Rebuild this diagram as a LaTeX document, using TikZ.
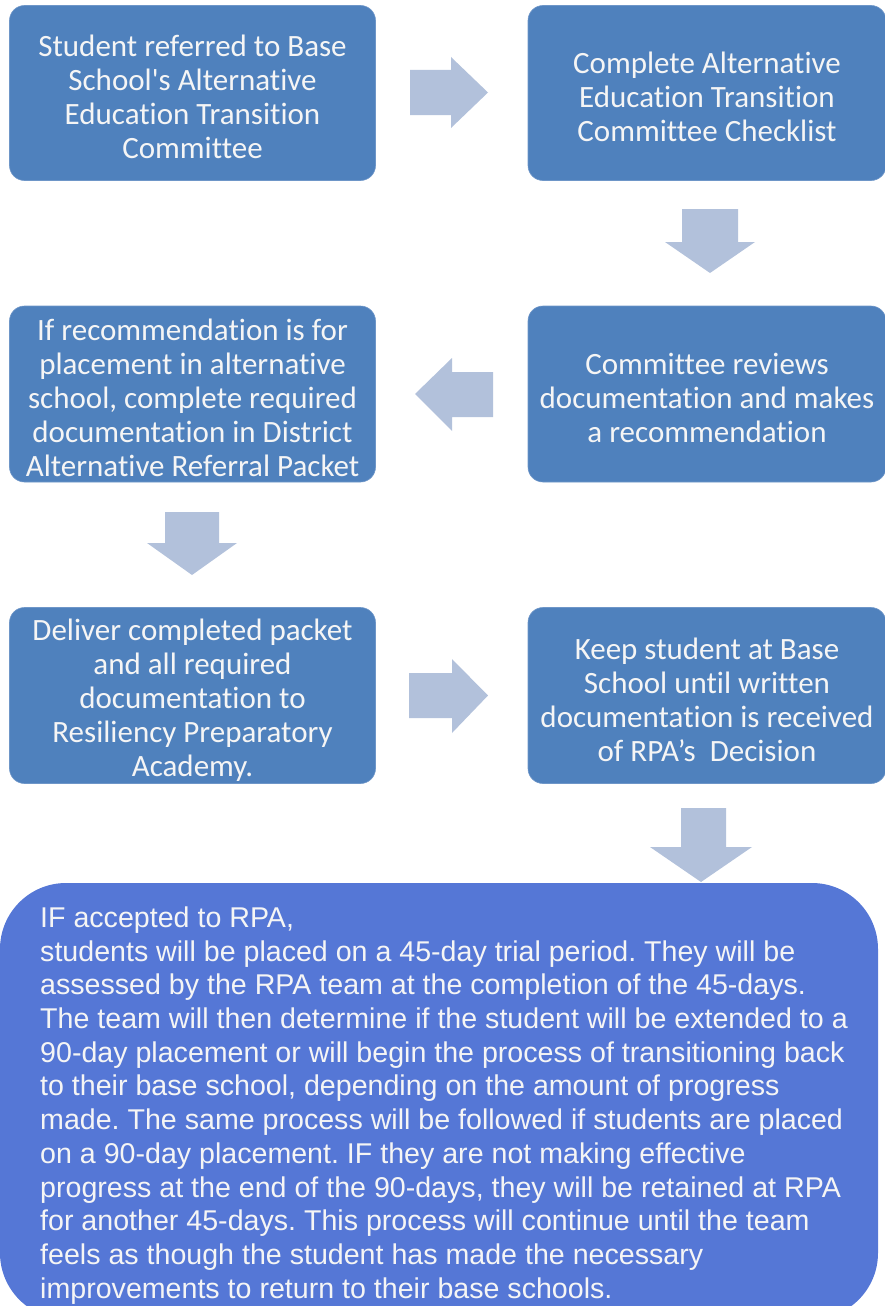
\documentclass[tikz,border=0pt]{standalone}
\usepackage{fontspec}
\setmainfont{Carlito}[Ligatures={NoCommon}]
\newfontfamily\arialfont{Liberation Sans}
\definecolor{boxblue}{RGB}{79,129,189}
\definecolor{boxedge}{RGB}{110,150,200}
\definecolor{arrowgray}{RGB}{178,193,219}
\definecolor{finblue}{RGB}{85,119,214}
\definecolor{boxtext}{RGB}{245,245,245}
\newcommand\tp{\rule{0pt}{30pt}}
\frenchspacing
\begin{document}
\begin{tikzpicture}[x=1pt,y=-1pt,
  stepbox/.style={rectangle, rounded corners=15pt, fill=boxblue, draw=boxedge, line width=0.6pt,
    text=boxtext, align=center, font=\fontsize{31}{34}\selectfont, inner sep=0pt},
  barrow/.style={fill=arrowgray},
  finbox/.style={rectangle, rounded corners=66pt, fill=finblue, inner sep=0pt},
  fintext/.style={text=boxtext, align=left, inner sep=0pt, font=\arialfont\fontsize{28.6}{33.7}\selectfont}]
\useasboundingbox (0,0) rectangle (885,1306);

% step boxes
\node[stepbox, minimum width=366pt, minimum height=175pt] (b1) at (192.5,93)
  {\tp Student referred to Base\\School\textquotesingle s Alternative\\Education Transition\\Committee};
\node[stepbox, minimum width=358pt, minimum height=175pt] (b2) at (707,93)
  {\tp Complete Alternative\\Education Transition\\Committee Checklist};
\node[stepbox, minimum width=358pt, minimum height=176pt] (b4) at (707,394)
  {\tp Committee reviews\\documentation and makes\\a recommendation};
\node[stepbox, minimum width=366pt, minimum height=176pt] (b3) at (192.5,394)
  {\tp If recommendation is for\\placement in alternative\\school, complete required\\documentation in District\\Alternative Referral Packet};
\node[stepbox, minimum width=366pt, minimum height=176pt] (b5) at (192.5,695.5)
  {\tp Deliver completed packet\\and all required\\documentation to\\Resiliency Preparatory\\Academy.};
\node[stepbox, minimum width=358pt, minimum height=176pt] (b6) at (707,695.5)
  {\tp Keep student at Base\\School until written\\documentation is received\\of RPA’s\ \ Decision};

% block arrows
\fill[barrow] (410,70) -- (451,70) -- (451,57) -- (488,92.5) -- (451,128) -- (451,115) -- (410,115) -- cycle;
\fill[barrow] (682,209) -- (738,209) -- (738,242) -- (755,242) -- (710,273) -- (665,242) -- (682,242) -- cycle;
\fill[barrow] (493,372) -- (452,372) -- (452,358) -- (415,394) -- (452,431) -- (452,417) -- (493,417) -- cycle;
\fill[barrow] (165,512) -- (219,512) -- (219,543) -- (237,543) -- (192,575) -- (147,543) -- (165,543) -- cycle;
\fill[barrow] (409,673) -- (452,673) -- (452,659) -- (488,695.5) -- (452,733) -- (452,718) -- (409,718) -- cycle;
\fill[barrow] (681,808) -- (726,808) -- (726,847) -- (752,847) -- (701,882) -- (650,847) -- (681,847) -- cycle;

% final box
\node[finbox, minimum width=878pt, minimum height=436pt] (fin) at (439,1101) {};
\node[fintext, anchor=north west] (fintxt) at (40,906.5)
  {IF accepted to RPA,\\
   students will be placed on a 45-day trial period. They will be\\
   assessed by the RPA team at the completion of the 45-days.\\
   The team will then determine if the student will be extended to a\\
   90-day placement or will begin the process of transitioning back\\
   to their base school, depending on the amount of progress\\
   made. The same process will be followed if students are placed\\
   on a 90-day placement. IF they are not making effective\\
   progress at the end of the 90-days, they will be retained at RPA\\
   for another 45-days. This process will continue until the team\\
   feels as though the student has made the necessary\\
   improvements to return to their base schools.};
\end{tikzpicture}
\end{document}
